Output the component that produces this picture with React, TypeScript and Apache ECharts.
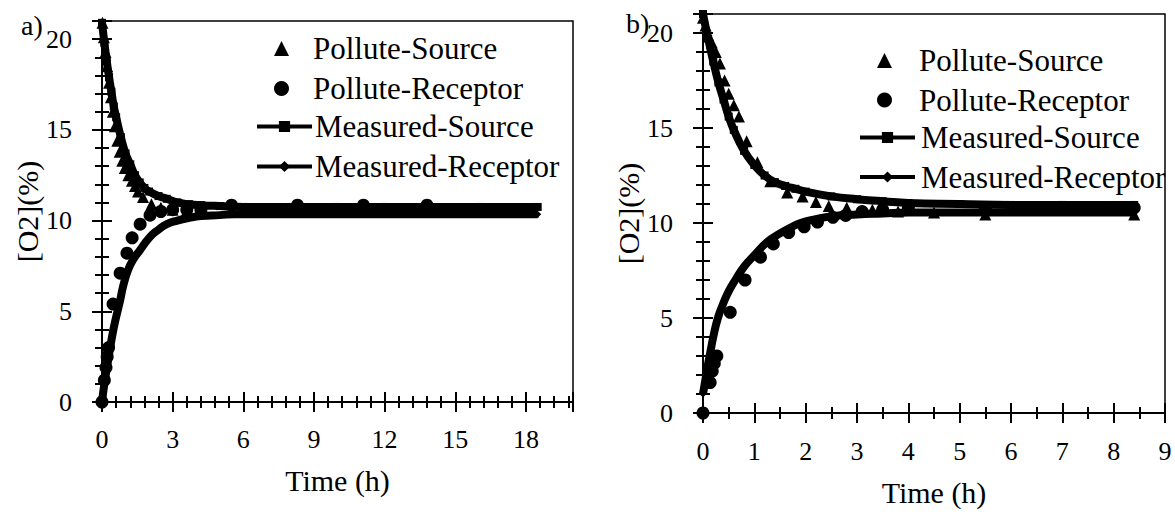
import React, { useEffect, useRef } from "react";
import * as echarts from "echarts";

const NAMES = ["Pollute-Source", "Pollute-Receptor", "Measured-Source", "Measured-Receptor"];
const FONT = "'Liberation Serif', 'Times New Roman', serif";

// axis settings
const xMaxA = 20;
const xIntervalA = 3;
const xMaxB = 9;
const xIntervalB = 1;
const yMax = 21;
const yInterval = 5;

// Panel a) data [time (h), O2 (%)]
const aPolluteSource: number[][] = [
  [0.02, 20.9], [0.08, 20.1], [0.15, 19.3], [0.22, 18.5], [0.3, 17.6], [0.38, 16.8],
  [0.46, 16.0], [0.55, 15.2], [0.65, 14.4], [0.75, 13.8], [0.86, 13.3], [0.97, 12.9],
  [1.12, 12.5], [1.27, 12.2], [1.4, 11.9], [1.53, 11.6], [1.74, 11.3], [2.1, 10.9],
  [2.5, 10.7], [3.0, 10.6], [3.6, 10.55], [4.2, 10.5], [5.5, 10.5], [8.3, 10.5],
  [11.0, 10.5], [13.8, 10.5], [16.6, 10.5], [18.3, 10.5],
];
const aPolluteReceptor: number[][] = [
  [0, 0], [0.1, 1.2], [0.17, 1.9], [0.22, 2.5], [0.28, 3.0], [0.47, 5.4], [0.77, 7.1],
  [1.06, 8.2], [1.28, 9.05], [1.62, 9.8], [2.04, 10.3], [2.5, 10.5], [3.0, 10.6],
  [3.6, 10.6], [4.2, 10.6], [5.5, 10.85], [8.3, 10.85], [11.1, 10.85], [13.8, 10.85],
];
const aMeasuredSource: number[][] = [
  [0, 20.9], [0.1, 19.8], [0.2, 18.8], [0.3, 17.9], [0.4, 17.1], [0.5, 16.3], [0.6, 15.7],
  [0.8, 14.6], [1.0, 13.7], [1.2, 13.1], [1.4, 12.5], [1.6, 12.1], [1.8, 11.8], [2.0, 11.6],
  [2.4, 11.35], [2.75, 11.2], [3.2, 11.0], [3.7, 10.9], [4.2, 10.85], [5, 10.8], [6, 10.75],
  [8, 10.75], [10, 10.75], [12, 10.75], [14, 10.75], [16, 10.75], [18.5, 10.75],
];
const aMeasuredReceptor: number[][] = [
  [0, 0], [0.1, 1.0], [0.26, 2.3], [0.4, 3.4], [0.55, 4.4], [0.77, 5.6], [0.9, 6.4],
  [1.1, 7.25], [1.3, 7.8], [1.6, 8.35], [2.04, 9.1], [2.4, 9.5], [2.75, 9.8], [3.2, 10.0],
  [3.7, 10.15], [4.2, 10.25], [5, 10.3], [5.6, 10.35], [8, 10.35], [10, 10.35], [12, 10.35],
  [14, 10.35], [16, 10.35], [18.5, 10.35],
];

// Panel b) data [time (h), O2 (%)]
const bPolluteSource: number[][] = [
  [0, 20.8], [0.05, 20.4], [0.1, 19.9], [0.17, 19.5], [0.25, 19.0], [0.33, 18.4],
  [0.42, 17.5], [0.5, 16.8], [0.6, 16.2], [0.7, 15.6], [0.85, 14.3], [1.06, 13.2],
  [1.31, 12.2], [1.64, 11.6], [1.94, 11.4], [2.2, 11.1], [2.45, 10.9], [2.8, 10.8],
  [3.3, 10.7], [3.8, 10.6], [4.5, 10.55], [5.5, 10.45], [8.4, 10.45],
];
const bPolluteReceptor: number[][] = [
  [0, 0], [0.14, 1.6], [0.18, 2.2], [0.22, 2.6], [0.27, 3.0], [0.53, 5.3], [0.82, 7.0],
  [1.12, 8.2], [1.37, 8.9], [1.67, 9.5], [1.97, 9.8], [2.23, 10.05], [2.53, 10.3],
  [2.78, 10.4], [3.1, 10.6], [3.5, 10.7], [4.0, 10.8], [5.5, 10.8], [8.4, 10.8],
];
const bMeasuredSource: number[][] = [
  [0, 21.0], [0.1, 19.7], [0.2, 18.5], [0.3, 17.4], [0.4, 16.5], [0.5, 15.6], [0.6, 14.9],
  [0.8, 13.8], [1.0, 13.05], [1.2, 12.5], [1.4, 12.15], [1.6, 11.95], [1.8, 11.8],
  [2.0, 11.65], [2.5, 11.4], [3.0, 11.25], [3.5, 11.15], [4, 11.05], [5, 11.0], [6, 10.95],
  [7, 10.95], [8.4, 10.95],
];
const bMeasuredReceptor: number[][] = [
  [0, 1.0], [0.05, 1.8], [0.1, 2.6], [0.15, 3.3], [0.2, 4.0], [0.29, 5.0], [0.4, 5.8],
  [0.5, 6.4], [0.63, 7.0], [0.8, 7.7], [1.0, 8.3], [1.25, 9.0], [1.5, 9.45], [1.7, 9.75],
  [1.9, 10.0], [2.2, 10.2], [2.5, 10.35], [3.0, 10.45], [3.5, 10.5], [4, 10.55], [5, 10.55],
  [6, 10.55], [7, 10.55], [8.4, 10.55],
];

const panels = [
  { ps: aPolluteSource, pr: aPolluteReceptor, ms: aMeasuredSource, mr: aMeasuredReceptor },
  { ps: bPolluteSource, pr: bPolluteReceptor, ms: bMeasuredSource, mr: bMeasuredReceptor },
];

export default function App() {
  const ref = useRef<HTMLDivElement>(null);

  useEffect(() => {
    if (!ref.current) return;
    const chart = echarts.init(ref.current, undefined, { renderer: "svg" });

    const labelStyle = { color: "#000", fontFamily: FONT, fontSize: 26 };
    const nameStyle = { color: "#000", fontFamily: FONT, fontSize: 30 };

    const mkX = (gridIndex: number, max: number, interval: number, split: number, main: boolean) => ({
      type: "value",
      gridIndex,
      position: "bottom",
      min: 0,
      max,
      interval,
      name: main ? "Time (h)" : "",
      nameLocation: "middle",
      nameGap: 63,
      nameTextStyle: nameStyle,
      axisLine: { show: main, onZero: false, lineStyle: { color: "#000", width: 2 } },
      axisTick: { show: true, inside: !main, length: 10, lineStyle: { color: "#000", width: 2 } },
      minorTick: { show: true, splitNumber: split, length: 6, lineStyle: { color: "#000", width: 2 } },
      axisLabel: { show: main, margin: 24, showMaxLabel: false, ...labelStyle },
      splitLine: { show: false },
      minorSplitLine: { show: false },
    });
    const mkY = (gridIndex: number, main: boolean) => ({
      type: "value",
      gridIndex,
      position: "left",
      min: 0,
      max: yMax,
      interval: yInterval,
      name: main ? "[O2](%)" : "",
      nameLocation: "middle",
      nameRotate: 90,
      nameGap: 60,
      nameTextStyle: nameStyle,
      axisLine: { show: main, onZero: false, lineStyle: { color: "#000", width: 2 } },
      axisTick: { show: true, inside: !main, length: 10, lineStyle: { color: "#000", width: 2 } },
      minorTick: { show: true, splitNumber: 5, length: 7, lineStyle: { color: "#000", width: 2 } },
      axisLabel: { show: main, margin: 30, showMaxLabel: false, ...labelStyle },
      splitLine: { show: false },
      minorSplitLine: { show: false },
    });

    const series: any[] = [];
    panels.forEach((p, i) => {
      series.push({
        name: NAMES[0], type: "scatter", xAxisIndex: i, yAxisIndex: i, data: p.ps,
        symbol: "triangle", symbolSize: 12, itemStyle: { color: "#000", opacity: 1 }, z: 3,
      });
      series.push({
        name: NAMES[1], type: "scatter", xAxisIndex: i, yAxisIndex: i, data: p.pr,
        symbol: "circle", symbolSize: 13, itemStyle: { color: "#000", opacity: 1 }, z: 3,
      });
      series.push({
        name: NAMES[2], type: "line", xAxisIndex: i, yAxisIndex: i, data: p.ms,
        symbol: "rect", symbolSize: 8, showSymbol: true, smooth: true,
        lineStyle: { color: "#000", width: 8 }, itemStyle: { color: "#000" }, z: 2,
      });
      series.push({
        name: NAMES[3], type: "line", xAxisIndex: i, yAxisIndex: i, data: p.mr,
        symbol: "diamond", symbolSize: 7, showSymbol: true, smooth: true,
        lineStyle: { color: "#000", width: 8 }, itemStyle: { color: "#000" }, z: 2,
      });
    });

    const legendText = (padLeft: number) => ({
      color: "#000", fontFamily: FONT, fontSize: 31, lineHeight: 30, padding: [0, 0, 0, padLeft],
    });
    const scatterLegend = (left: number, top: number, gap: number, pad: number) => ({
      data: [NAMES[0], NAMES[1]],
      orient: "vertical",
      left, top,
      itemWidth: 15,
      itemHeight: 15,
      itemGap: gap,
      selectedMode: false,
      textStyle: legendText(pad),
    });
    const lineLegend = (left: number, top: number, gap: number, pad: number) => ({
      data: [NAMES[2], NAMES[3]],
      orient: "vertical",
      left, top,
      itemWidth: 55,
      itemHeight: 14,
      itemGap: gap,
      selectedMode: false,
      textStyle: legendText(pad),
      lineStyle: { width: 4 },
    });

    chart.setOption({
      animation: false,
      backgroundColor: "#fff",
      title: [
        { text: "a)", left: 16, top: 6, textStyle: { color: "#000", fontFamily: FONT, fontSize: 28, fontWeight: "normal" } },
        { text: "b)", left: 621, top: 4, textStyle: { color: "#000", fontFamily: FONT, fontSize: 28, fontWeight: "normal" } },
      ],
      grid: [
        { left: 102, top: 21, width: 471, height: 381, show: true, borderColor: "#000", borderWidth: 1.5, backgroundColor: "transparent" },
        { left: 703, top: 14, width: 462, height: 399, show: true, borderColor: "#000", borderWidth: 1.5, backgroundColor: "transparent" },
      ],
      legend: [
        scatterLegend(269, 28, 9, 19),
        lineLegend(250, 106, 9, -2),
        scatterLegend(872, 40, 8.5, 22),
        lineLegend(853, 117, 8.5, 1),
      ],
      xAxis: [
        mkX(0, xMaxA, xIntervalA, 5, true),
        { ...mkX(1, xMaxB, xIntervalB, 2, true), nameGap: 64, axisLabel: { show: true, margin: 25, showMaxLabel: true, ...labelStyle } },
        mkX(0, xMaxA, xIntervalA, 5, false),
        mkX(1, xMaxB, xIntervalB, 2, false),
      ],
      yAxis: [mkY(0, true), mkY(1, true), mkY(0, false), mkY(1, false)],
      series,
    });

    return () => chart.dispose();
  }, []);

  return <div ref={ref} style={{ position: "absolute", left: 0, top: 0, width: 1175, height: 514 }} />;
}
